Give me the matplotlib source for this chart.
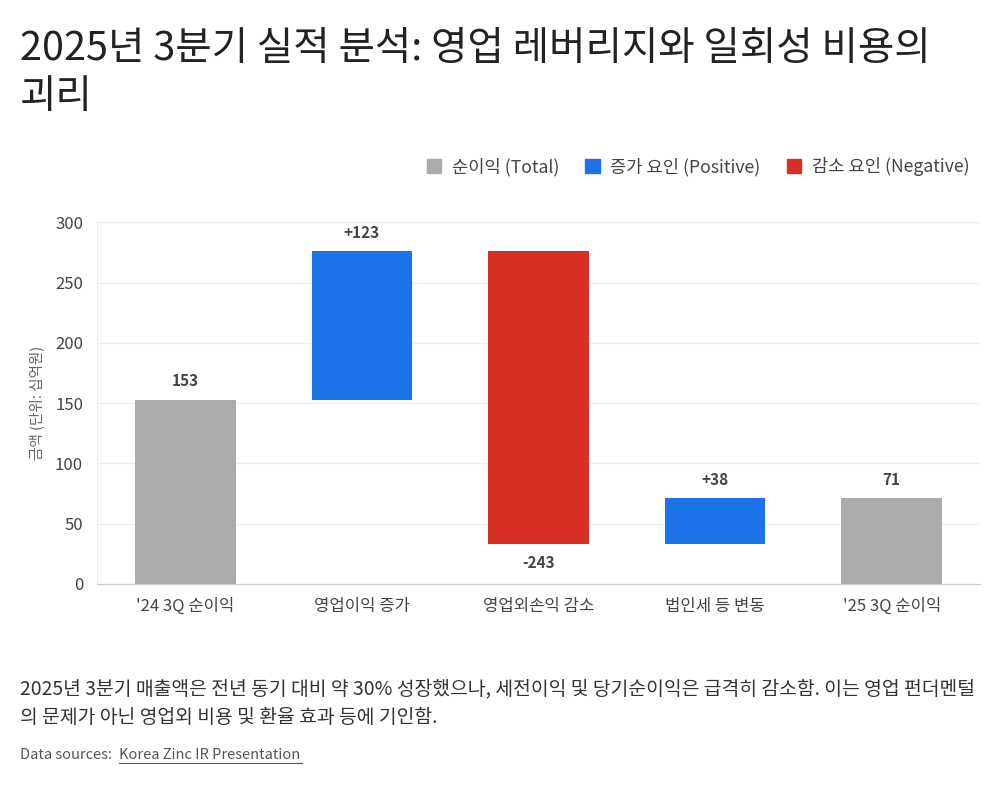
import numpy as np
import matplotlib.pyplot as plt
from matplotlib.patches import Patch

plt.rcParams['font.family'] = ['Noto Sans CJK KR', 'DejaVu Sans']

# 데이터
categories = ["'24 3Q 순이익", "영업이익 증가", "영업외손익 감소", "법인세 등 변동", "'25 3Q 순이익"]
values = [153, 123, -243, 38, 71]
kinds = ["total", "pos", "neg", "pos", "total"]
labels = ["153", "+123", "-243", "+38", "71"]

colors = {"total": "#ABABAB", "pos": "#1A73E8", "neg": "#D93025"}

# 워터폴 시작점 계산
bottoms = []
heights = []
running = 0
for v, k in zip(values, kinds):
    if k == "total":
        bottoms.append(0)
        heights.append(v)
        running = v
    else:
        start = running
        running = running + v
        bottoms.append(min(start, running))
        heights.append(abs(v))

fig = plt.figure(figsize=(10, 7.86), dpi=100)
ax = fig.add_axes([0.097, 0.257, 0.883, 0.46])

x = np.arange(len(categories))
ax.bar(x, heights, bottom=bottoms, width=0.57,
       color=[colors[k] for k in kinds], zorder=3)

for i in range(len(x)):
    if kinds[i] == "neg":
        ax.text(x[i], bottoms[i] - 9, labels[i], ha="center", va="top",
                fontsize=11, fontweight="bold", color="#444444")
    else:
        ax.text(x[i], bottoms[i] + heights[i] + 9, labels[i], ha="center",
                va="bottom", fontsize=11, fontweight="bold", color="#444444")

ax.set_ylim(0, 300)
ax.set_xlim(-0.5, len(x) - 0.5)
ax.set_yticks(np.arange(0, 301, 50))
ax.set_xticks(x)
ax.set_xticklabels(categories)
ax.tick_params(axis="both", length=0, labelsize=12, colors="#444444", pad=10)
ax.grid(axis="y", color="#EEEEEE", linewidth=1, zorder=0)
for s in ["top", "right"]:
    ax.spines[s].set_visible(False)
ax.spines["left"].set_color("#EEEEEE")
ax.spines["bottom"].set_color("#CCCCCC")
ax.set_ylabel("금액 (단위: 십억원)", fontsize=10.5, color="#666666", labelpad=8)

handles = [Patch(color=colors["total"], label="순이익 (Total)"),
           Patch(color=colors["pos"], label="증가 요인 (Positive)"),
           Patch(color=colors["neg"], label="감소 요인 (Negative)")]
fig.legend(handles=handles, loc="upper right", bbox_to_anchor=(0.985, 0.82),
           ncol=3, frameon=False, fontsize=12.7, handlelength=0.8, handleheight=0.8,
           handletextpad=0.6, columnspacing=1.5, labelcolor="#444444")

fig.text(0.02, 0.938, "2025년 3분기 실적 분석: 영업 레버리지와 일회성 비용의", fontsize=28.5,
         color="#222222", va="center")
fig.text(0.02, 0.876, "괴리", fontsize=28.5, color="#222222", va="center")

fig.text(0.02, 0.124, "2025년 3분기 매출액은 전년 동기 대비 약 30% 성장했으나, 세전이익 및 당기순이익은 급격히 감소함. 이는 영업 펀더멘털",
         fontsize=13.9, color="#333333", va="center")
fig.text(0.02, 0.087, "의 문제가 아닌 영업외 비용 및 환율 효과 등에 기인함.",
         fontsize=13.9, color="#333333", va="center")
fig.text(0.02, 0.039, "Data sources: ", fontsize=10.5, color="#555555", va="center")
fig.text(0.119, 0.039, "Korea Zinc IR Presentation", fontsize=10.5, color="#555555",
         va="center")
fig.add_artist(plt.Line2D([0.119, 0.302], [0.029, 0.029], color="#555555", linewidth=0.8))

fig.savefig("out.png", dpi=100)
